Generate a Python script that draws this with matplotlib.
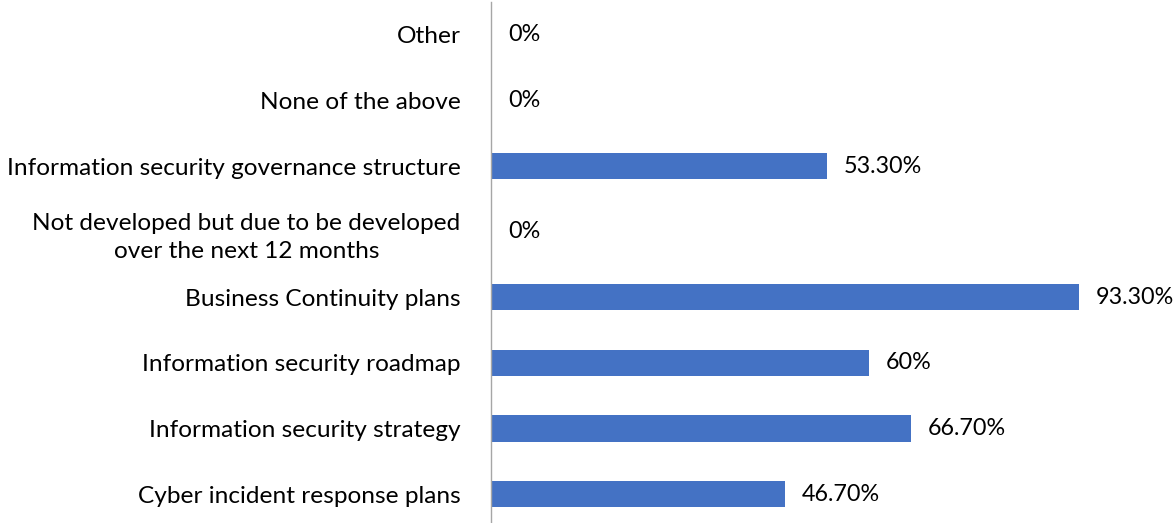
import matplotlib.pyplot as plt

categories = [
    "Cyber incident response plans",
    "Information security strategy",
    "Information security roadmap",
    "Business Continuity plans",
    "Not developed but due to be developed\nover the next 12 months",
    "Information security governance structure",
    "None of the above",
    "Other",
]
values = [46.7, 66.7, 60.0, 93.3, 0.0, 53.3, 0.0, 0.0]
value_labels = ["46.70%", "66.70%", "60%", "93.30%", "0%", "53.30%", "0%", "0%"]

plt.rcParams['font.family'] = ['Lato', 'DejaVu Sans']

fig = plt.figure(figsize=(11.75, 5.23), dpi=100)
ax = fig.add_axes([491 / 1175, (523 - 527) / 523, (1175 - 491) / 1175, 525 / 523])

ys = range(len(categories))
ax.barh(ys, values, height=0.4, color='#4472C4')
for y, v, lab in zip(ys, values, value_labels):
    ax.text(v + 2.7, y, lab, va='center', ha='left', fontsize=16.8, color='#000000')

ax.set_xlim(0, (1175 - 491) / 6.30)
ax.set_ylim(-0.5, len(categories) - 0.5)
ax.set_yticks(list(ys))
ax.set_yticklabels(categories, fontsize=17.6)
for t in ax.get_yticklabels():
    t.set_multialignment('center')
    t.set_linespacing(1.45)
ax.tick_params(axis='y', length=0, pad=22)
ax.set_xticks([])
for s in ['top', 'right', 'bottom']:
    ax.spines[s].set_visible(False)
ax.spines['left'].set_color('#A6A6A6')
ax.spines['left'].set_linewidth(1.0)

fig.savefig('out.png', dpi=100)
